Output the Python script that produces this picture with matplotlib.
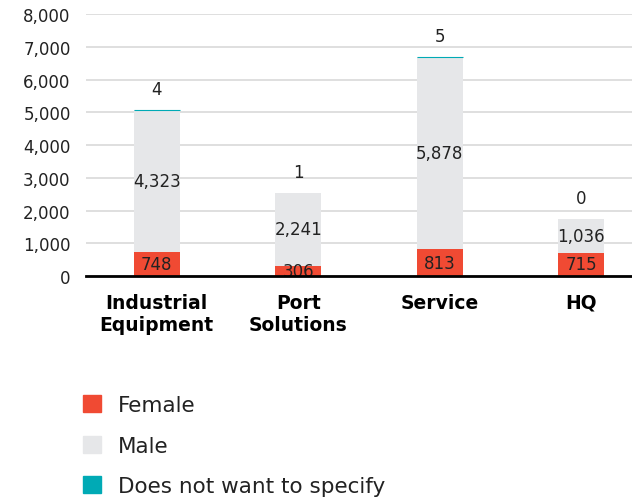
import numpy as np
import matplotlib
matplotlib.use("Agg")
import matplotlib.pyplot as plt
from matplotlib.patches import Patch

categories = ["Industrial\nEquipment", "Port\nSolutions", "Service", "HQ"]
female = [748, 306, 813, 715]
male = [4323, 2241, 5878, 1036]
unspecified = [4, 1, 5, 0]
yticks = [0, 1000, 2000, 3000, 4000, 5000, 6000, 7000, 8000]

c_female = "#F04A33"
c_male = "#E6E7E9"
c_unspec = "#00AAB5"
txt = "#222222"

plt.rcParams["font.family"] = "DejaVu Sans"

fig = plt.figure(figsize=(6.32, 5.02), dpi=100)
ax = fig.add_axes([0.136, 0.448, 0.864, 0.522])

x = np.arange(len(categories))
female = np.array(female)
male = np.array(male)
unspecified = np.array(unspecified)
w = 0.325

ax.bar(x, female, w, color=c_female, zorder=3)
ax.bar(x, male, w, bottom=female, color=c_male, zorder=3)
# tiny segments get a thin outline so they still show up
ax.bar(x, unspecified, w, bottom=female + male, color=c_unspec, zorder=3,
       edgecolor=c_unspec, linewidth=[0.8 if v > 1 else 0 for v in unspecified])

for i in x:
    ax.text(i, female[i] / 2, f"{female[i]:,}", ha="center", va="center",
            fontsize=12, color=txt, zorder=4)
    ax.text(i, female[i] + male[i] / 2, f"{male[i]:,}", ha="center", va="center",
            fontsize=12, color=txt, zorder=4)
    top = female[i] + male[i] + unspecified[i]
    ax.annotate(f"{unspecified[i]:,}", (i, top), xytext=(0, 15),
                textcoords="offset points", ha="center", va="center",
                fontsize=12, color=txt)

ax.set_xlim(-0.5, 3.36)
ax.set_ylim(0, 8000)
ax.set_yticks(yticks)
ax.set_yticklabels([f"{v:,}" for v in yticks])
ax.set_xticks(x)
ax.set_xticklabels(categories, fontsize=13.5, fontweight="bold", color="black",
                   linespacing=1.2)
ax.tick_params(axis="y", length=0, pad=11, labelsize=12, labelcolor=txt)
ax.tick_params(axis="x", length=0, pad=12)
ax.grid(axis="y", color="#D9D9D9", linewidth=1.2, zorder=0)
for s in ["left", "right", "top"]:
    ax.spines[s].set_visible(False)
ax.spines["bottom"].set_linewidth(2)
ax.spines["bottom"].set_zorder(5)

handles = [Patch(color=c_female, label="Female"),
           Patch(color=c_male, label="Male"),
           Patch(color=c_unspec, label="Does not want to specify")]
fig.legend(handles=handles, loc="upper left", bbox_to_anchor=(0.118, 0.228),
           bbox_transform=fig.transFigure, frameon=False, fontsize=15.5,
           handlelength=0.85, handleheight=0.85, handletextpad=0.75,
           labelspacing=0.95, labelcolor=txt, borderaxespad=0)

fig.savefig("out.png", dpi=100)
